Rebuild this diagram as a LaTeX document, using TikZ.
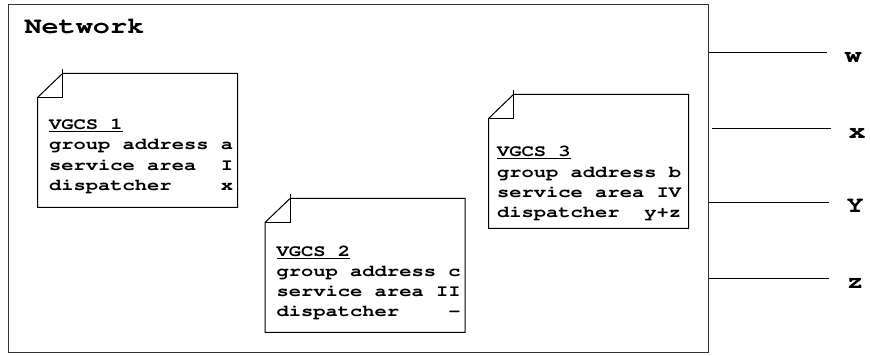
\documentclass[tikz,border=0pt]{standalone}
\usepackage[T1,TU]{fontenc}
\usepackage{graphicx}
\usetikzlibrary{positioning}

\newcommand\cour[1]{\fontencoding{T1}\fontfamily{pcr}\bfseries\fontsize{#1}{20.3}\selectfont}
\newcommand\wide[1]{\scalebox{1.24}[1]{#1}}
% dog-eared frame round a note node
\newcommand\foldnote[1]{%
  \draw ([xshift=25pt]#1.north west) -- (#1.north east) -- (#1.south east)
    -- (#1.south west) -- ([yshift=-24pt]#1.north west) -- cycle;
  \draw ([shift={(25pt,4pt)}]#1.north west) -- ([shift={(25pt,-24pt)}]#1.north west)
    -- ([yshift=-24pt]#1.north west);}

\begin{document}
\begin{tikzpicture}
    [x=1pt,y=1pt,line width=1pt,every node/.style={inner sep=0pt},
     net/.style={draw=black!80, minimum width=700pt, minimum height=348pt},
     note/.style={minimum width=199pt, minimum height=133pt},
     memo/.style={font=\cour{16.5}},
     sig/.style={anchor=west, inner xsep=17pt, text height=20pt, text depth=0pt, font=\cour{23}}]
  \useasboundingbox (0,0) rectangle (870,356);

  \node[net] (net) at (358,177) {};
  \node[anchor=base west, font=\cour{23}] (title) at (24,322.3) {\wide{Network}};

  \node[note] (note1) at (137.5,215.5) {};
  \node[note] (note2) at (365,90.5) {};
  \node[note] (note3) at (588.5,194.5) {};
  \foreach \n in {note1,note2,note3}
    \foldnote{\n};

  \node[memo, below right=41.3pt and 11pt of note1.north west] (vgcs1) {\wide{\begin{tabular}{@{}l@{}}
    \underline{VGCS 1}\\ group address a\\ service area~~I\\ dispatcher~~~~x\end{tabular}}};
  \node[memo, below right=42.8pt and 11pt of note2.north west] (vgcs2) {\wide{\begin{tabular}{@{}l@{}}
    \underline{VGCS 2}\\ group address c\\ service area II\\ dispatcher~~~~-\end{tabular}}};
  \node[memo, below right=47.5pt and 8pt of note3.north west] (vgcs3) {\wide{\begin{tabular}{@{}l@{}}
    \underline{VGCS 3}\\ group address b\\ service area IV\\ dispatcher~~y+z\end{tabular}}};

  \node[sig] (lw) at (827,303.3) {\wide{w}};
  \node[sig] (lx) at (831,227) {\wide{x}};
  \node[sig] (ly) at (829,153) {\wide{Y}};
  \node[sig] (lz) at (829,77) {\wide{z}};

  \foreach \s in {lw,ly,lz}
    \draw (net.east |- \s) -- (\s.west);
  \draw ([xshift=3pt]net.east |- lx) -- (lx.west);
\end{tikzpicture}
\end{document}
